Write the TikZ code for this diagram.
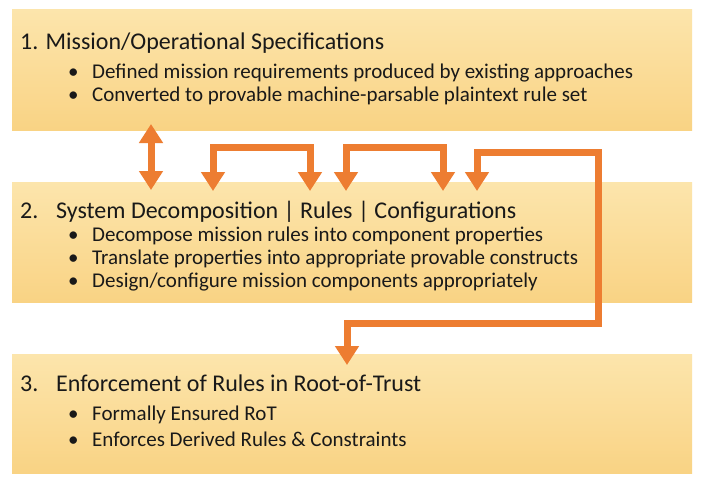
\documentclass[tikz,border=0pt]{standalone}
\usepackage{fontspec}
\setmainfont{Carlito}
\usetikzlibrary{arrows.meta}
\definecolor{arr}{RGB}{237,125,49}
\definecolor{boxtop}{RGB}{252,229,172}
\definecolor{boxbot}{RGB}{249,211,132}
\definecolor{txt}{RGB}{25,25,25}
\begin{document}
\begin{tikzpicture}[x=1pt,y=-1pt,
  box/.style={draw=none, top color=boxtop, bottom color=boxbot, minimum width=680pt, inner sep=0pt, anchor=north west},
  ttl/.style={anchor=base west, inner sep=0pt, font=\fontsize{24}{28}\selectfont, text=txt},
  itm/.style={anchor=base west, inner sep=0pt, font=\fontsize{21}{25}\selectfont, text=txt},
  link/.style={draw=arr, line width=7pt, line join=miter, {Triangle[width=23pt,length=19pt]}-{Triangle[width=23pt,length=19pt]}}
]
\useasboundingbox (0,0) rectangle (706,488);
\fill[white] (0,0) rectangle (706,488);
% boxes
\node[box, minimum height=121pt] (b1) at (12,9) {};
\node[box, minimum height=120pt] (b2) at (12,182) {};
\node[box, minimum height=119pt] (b3) at (12,354) {};
% box 1 text
\node[ttl] (t1) at (20,49) {1. Mission/Operational Specifications};
\node[itm] (d11) at (68,78) {•};
\node[itm] (i11) at (92,78) {Defined mission requirements produced by existing approaches};
\node[itm] (d12) at (68,101) {•};
\node[itm] (i12) at (92,101) {Converted to provable machine-parsable plaintext rule set};
% box 2 text
\node[ttl] (n2) at (20,218) {2.};
\node[ttl] (t2) at (56,218) {System Decomposition | Rules | Configurations};
\node[itm] (d21) at (68,241) {•};
\node[itm] (i21) at (92,241) {Decompose mission rules into component properties};
\node[itm] (d22) at (68,264) {•};
\node[itm] (i22) at (92,264) {Translate properties into appropriate provable constructs};
\node[itm] (d23) at (68,287) {•};
\node[itm] (i23) at (92,287) {Design/configure mission components appropriately};
% box 3 text
\node[ttl] (n3) at (20,391) {3.};
\node[ttl] (t3) at (56,391) {Enforcement of Rules in Root-of-Trust};
\node[itm] (d31) at (68,420) {•};
\node[itm] (i31) at (92,420) {Formally Ensured RoT};
\node[itm] (d32) at (68,446) {•};
\node[itm] (i32) at (92,446) {Enforces Derived Rules \& Constraints};
% connector end points
\coordinate (p1a) at (151,124);
\coordinate (p1b) at (151,190);
\coordinate (p2a) at (213,191);
\coordinate (p2b) at (310,191);
\coordinate (p3a) at (346,191);
\coordinate (p3b) at (443,191);
\coordinate (p4a) at (477,191);
\coordinate (p4b) at (347,365);
% connectors
\draw[link] (p1a) -- (p1b);
\draw[link] (p2a) -- (213,147) -- (310,147) -- (p2b);
\draw[link] (p3a) -- (346,147) -- (443,147) -- (p3b);
\draw[link] (p4a) -- (477,152) -- (598,152) -- (598,323) -- (347,323) -- (p4b);
\end{tikzpicture}
\end{document}
